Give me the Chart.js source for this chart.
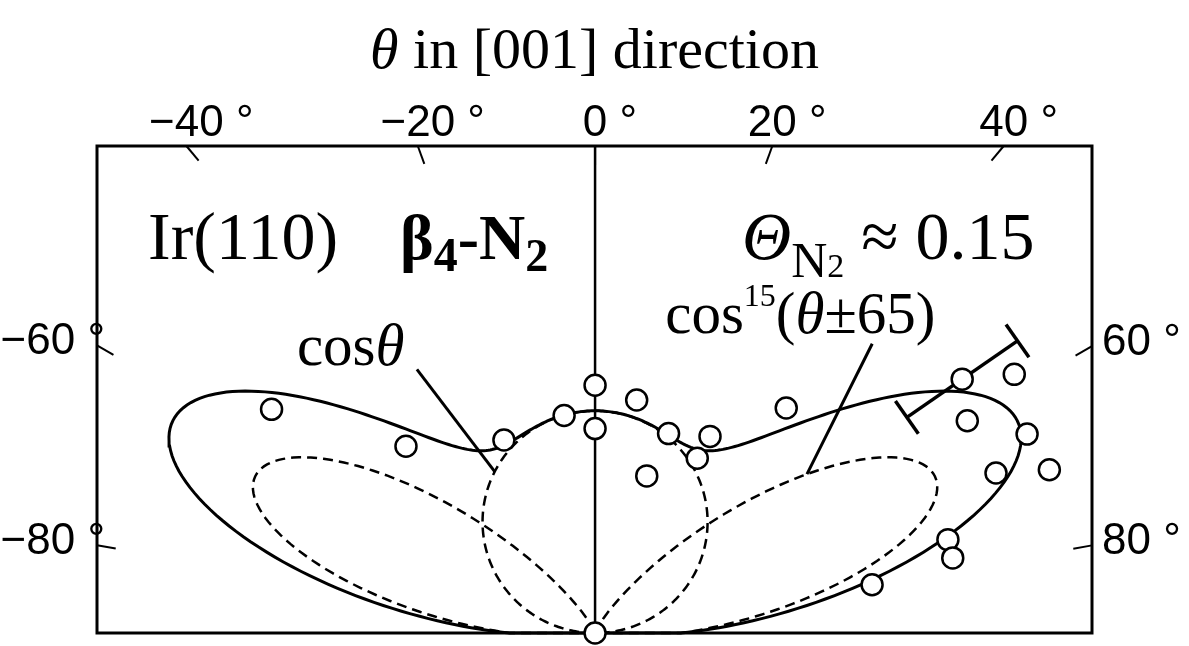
<!DOCTYPE html>
<html>
<head>
<meta charset="utf-8">
<script src="https://cdn.jsdelivr.net/npm/chart.js@4.4.1/dist/chart.umd.min.js"></script>
<style>
  html, body { margin: 0; padding: 0; background: #fff; }
  #wrap { width: 1189px; height: 646px; }
</style>
</head>
<body>
<div id="wrap"><canvas id="polarChart"></canvas></div>
<script>
// measured points: angle from surface normal (deg) and intensity (arb. units)
const angles = [-55, -45, -25, -8, 0, 0, 10, 18, 20, 30, 30, 40, 55, 58, 60, 65, 68, 70, 75, 78, 80, 90];
const intensities = [1.053, 0.713, 0.575, 0.593, 0.669, 0.552, 0.639, 0.446, 0.573, 0.613, 0.545, 0.793,
  1.195, 1.318, 1.146, 1.271, 1.153, 1.289, 0.974, 0.975, 0.750, 0];
const errors = [0, 0, 0, 0, 0, 0, 0, 0, 0, 0, 0, 0, 0.18, 0, 0, 0, 0, 0, 0, 0, 0, 0];

// angle ticks around the frame
const tickAngles = [-80, -60, -40, -20, 0, 20, 40, 60, 80];

// fitted model: A*cos(t) + B*[cos^n(t-65) + cos^n(t+65)]
const cosAmp = 0.6;
const lobeAmp = 1.0;
const lobeExp = 15;
const lobeAngle = 65;

const SERIF = '"Liberation Serif", "Times New Roman", serif';
const SANS = '"Liberation Sans", Arial, sans-serif';
const rad = d => d * Math.PI / 180;
const toXY = (deg, r) => ({ x: r * Math.sin(rad(deg)), y: r * Math.cos(rad(deg)) });

const cosPart = t => cosAmp * Math.max(0, Math.cos(rad(t)));
const lobe = (t, c) => lobeAmp * Math.pow(Math.max(0, Math.cos(rad(t - c))), lobeExp);

// sample the model curves over the half plane
const sweep = [];
for (let t = -90; t <= 90; t += 0.5) sweep.push(t);

const totalCurve = [{ x: 0, y: 0 }, ...sweep.map(t => toXY(t, cosPart(t) + lobe(t, lobeAngle) + lobe(t, -lobeAngle))), { x: 0, y: 0 }];
const cosCurve = sweep.map(t => toXY(t, cosPart(t)));
const lobePlus = [{ x: 0, y: 0 }, ...sweep.filter(t => t >= lobeAngle - 90).map(t => toXY(t, lobe(t, lobeAngle))), { x: 0, y: 0 }];
const lobeMinus = [{ x: 0, y: 0 }, ...sweep.filter(t => t <= 90 - lobeAngle).map(t => toXY(t, lobe(t, -lobeAngle))), { x: 0, y: 0 }];
const measured = angles.map((a, i) => toXY(a, intensities[i]));

function drawRuns(ctx, x, y, runs) {
  runs.forEach(r => {
    ctx.font = r.font;
    ctx.fillText(r.text, x, y + (r.dy || 0));
    x += ctx.measureText(r.text).width;
  });
}

function runsWidth(ctx, runs) {
  return runs.reduce((w, r) => { ctx.font = r.font; return w + ctx.measureText(r.text).width; }, 0);
}

// where a ray from the origin at angle deg meets the frame
function edgePoint(chart, deg) {
  const { chartArea: a, scales: { x, y } } = chart;
  const ox = x.getPixelForValue(0), oy = y.getPixelForValue(0);
  const s = Math.sin(rad(deg)), c = Math.cos(rad(deg));
  let t = (oy - a.top) / c;
  let side = 'top';
  if (Math.abs(s) > 1e-9) {
    const ts = ((s > 0 ? a.right : a.left) - ox) / s;
    if (ts < t) { t = ts; side = s > 0 ? 'right' : 'left'; }
  }
  return { x: ox + s * t, y: oy - c * t, s, c, side };
}

const polarFrame = {
  id: 'polarFrame',
  beforeDatasetsDraw(chart) {
    const { ctx, chartArea: a, scales: { x, y } } = chart;
    const P = (vx, vy) => [x.getPixelForValue(vx), y.getPixelForValue(vy)];
    const line = (p, q) => { ctx.beginPath(); ctx.moveTo(p[0], p[1]); ctx.lineTo(q[0], q[1]); ctx.stroke(); };
    ctx.save();
    ctx.strokeStyle = '#000';
    ctx.lineCap = 'butt';

    // frame
    ctx.lineWidth = 3;
    ctx.strokeRect(a.left, a.top, a.right - a.left, a.bottom - a.top);

    // surface normal
    ctx.lineWidth = 2.5;
    line(P(0, 0), [x.getPixelForValue(0), a.top]);

    // radial ticks
    ctx.lineWidth = 2;
    tickAngles.forEach(d => {
      const e = edgePoint(chart, d);
      line([e.x, e.y], [e.x - e.s * 19, e.y + e.c * 19]);
    });

    // leader lines for labels
    ctx.lineWidth = 3;
    line(P(-0.475, 0.712), P(-0.267, 0.435));
    line(P(0.739, 0.781), P(0.565, 0.429));

    // radial error bars
    ctx.lineWidth = 3.5;
    angles.forEach((d, i) => {
      if (!errors[i]) return;
      const lo = toXY(d, intensities[i] - errors[i]);
      const hi = toXY(d, intensities[i] + errors[i]);
      const p = P(lo.x, lo.y), q = P(hi.x, hi.y);
      line(p, q);
      const c = Math.cos(rad(d)) * 20, s = Math.sin(rad(d)) * 20;
      [p, q].forEach(e => line([e[0] - c, e[1] - s], [e[0] + c, e[1] + s]));
    });
    ctx.restore();
  },
  afterDatasetsDraw(chart) {
    const { ctx, chartArea: a, scales: { x, y } } = chart;
    const P = (vx, vy) => [x.getPixelForValue(vx), y.getPixelForValue(vy)];
    ctx.save();
    ctx.fillStyle = '#000';
    ctx.textBaseline = 'alphabetic';

    // angle labels
    ctx.font = '44px ' + SANS;
    tickAngles.forEach(d => {
      const e = edgePoint(chart, d);
      const num = (d < 0 ? '\u2212' : '') + Math.abs(d);
      if (e.side === 'top') {
        ctx.textAlign = 'left';
        ctx.fillText(num + ' \u00b0', e.x - ctx.measureText(num).width / 2, a.top - 10);
      } else if (e.side === 'left') {
        ctx.textAlign = 'right';
        ctx.fillText(num + ' \u00b0', a.left + 8, e.y + 9);
      } else {
        ctx.textAlign = 'left';
        ctx.fillText(num + ' \u00b0', a.right + 10, e.y + 9);
      }
    });

    ctx.textAlign = 'left';
    // title
    const title = [
      { text: '\u03b8', font: 'italic 58px ' + SERIF },
      { text: ' in [001] direction', font: '58px ' + SERIF }
    ];
    drawRuns(ctx, (a.left + a.right) / 2 - runsWidth(ctx, title) / 2, 68, title);

    let p = P(-1.192, 1.011);
    drawRuns(ctx, p[0], p[1], [{ text: 'Ir(110)', font: '68px ' + SERIF }]);

    p = P(-0.52, 1.011);
    drawRuns(ctx, p[0], p[1], [
      { text: '\u03b2', font: 'bold 64px ' + SERIF },
      { text: '4', font: 'bold 48px ' + SERIF, dy: 12 },
      { text: '-N', font: 'bold 64px ' + SERIF },
      { text: '2', font: 'bold 46px ' + SERIF, dy: 12 }
    ]);

    p = P(0.392, 1.011);
    drawRuns(ctx, p[0], p[1], [
      { text: '\u0398', font: 'italic 68px ' + SERIF },
      { text: 'N', font: '50px ' + SERIF, dy: 18 },
      { text: '2', font: '34px ' + SERIF, dy: 18 },
      { text: ' \u2248 0.15', font: '68px ' + SERIF }
    ]);

    p = P(-0.795, 0.723);
    drawRuns(ctx, p[0], p[1], [
      { text: 'cos', font: '59px ' + SERIF },
      { text: '\u03b8', font: 'italic 59px ' + SERIF }
    ]);

    p = P(0.187, 0.811);
    drawRuns(ctx, p[0], p[1], [
      { text: 'cos', font: '59px ' + SERIF },
      { text: '15', font: '32px ' + SERIF, dy: -27 },
      { text: '(', font: '59px ' + SERIF },
      { text: '\u03b8', font: 'italic 59px ' + SERIF },
      { text: '\u00b165)', font: '59px ' + SERIF }
    ]);
    ctx.restore();
  }
};

const curveStyle = { showLine: true, pointRadius: 0, borderColor: '#000', fill: false, tension: 0, clip: false };

new Chart(document.getElementById('polarChart'), {
  type: 'scatter',
  data: {
    datasets: [
      { label: 'data', data: measured, order: 0, pointRadius: 10.5, pointBorderWidth: 2.5,
        pointBackgroundColor: '#fff', pointBorderColor: '#000', showLine: false, clip: false },
      { label: 'fit', data: totalCurve, order: 1, borderWidth: 3, ...curveStyle },
      { label: 'cos', data: cosCurve, order: 2, borderWidth: 2.5, borderDash: [10, 6], ...curveStyle },
      { label: 'lobe +65', data: lobePlus, order: 2, borderWidth: 2.5, borderDash: [10, 6], ...curveStyle },
      { label: 'lobe -65', data: lobeMinus, order: 2, borderWidth: 2.5, borderDash: [10, 6], ...curveStyle }
    ]
  },
  options: {
    responsive: true,
    maintainAspectRatio: false,
    animation: false,
    layout: { padding: { left: 97, right: 97, top: 146, bottom: 7 } },
    scales: {
      x: { type: 'linear', min: -1.328, max: 1.325, display: false },
      y: { type: 'linear', min: 0, max: 1.315, display: false }
    },
    plugins: { legend: { display: false }, tooltip: { enabled: false }, title: { display: false } }
  },
  plugins: [polarFrame]
});
</script>
</body>
</html>
